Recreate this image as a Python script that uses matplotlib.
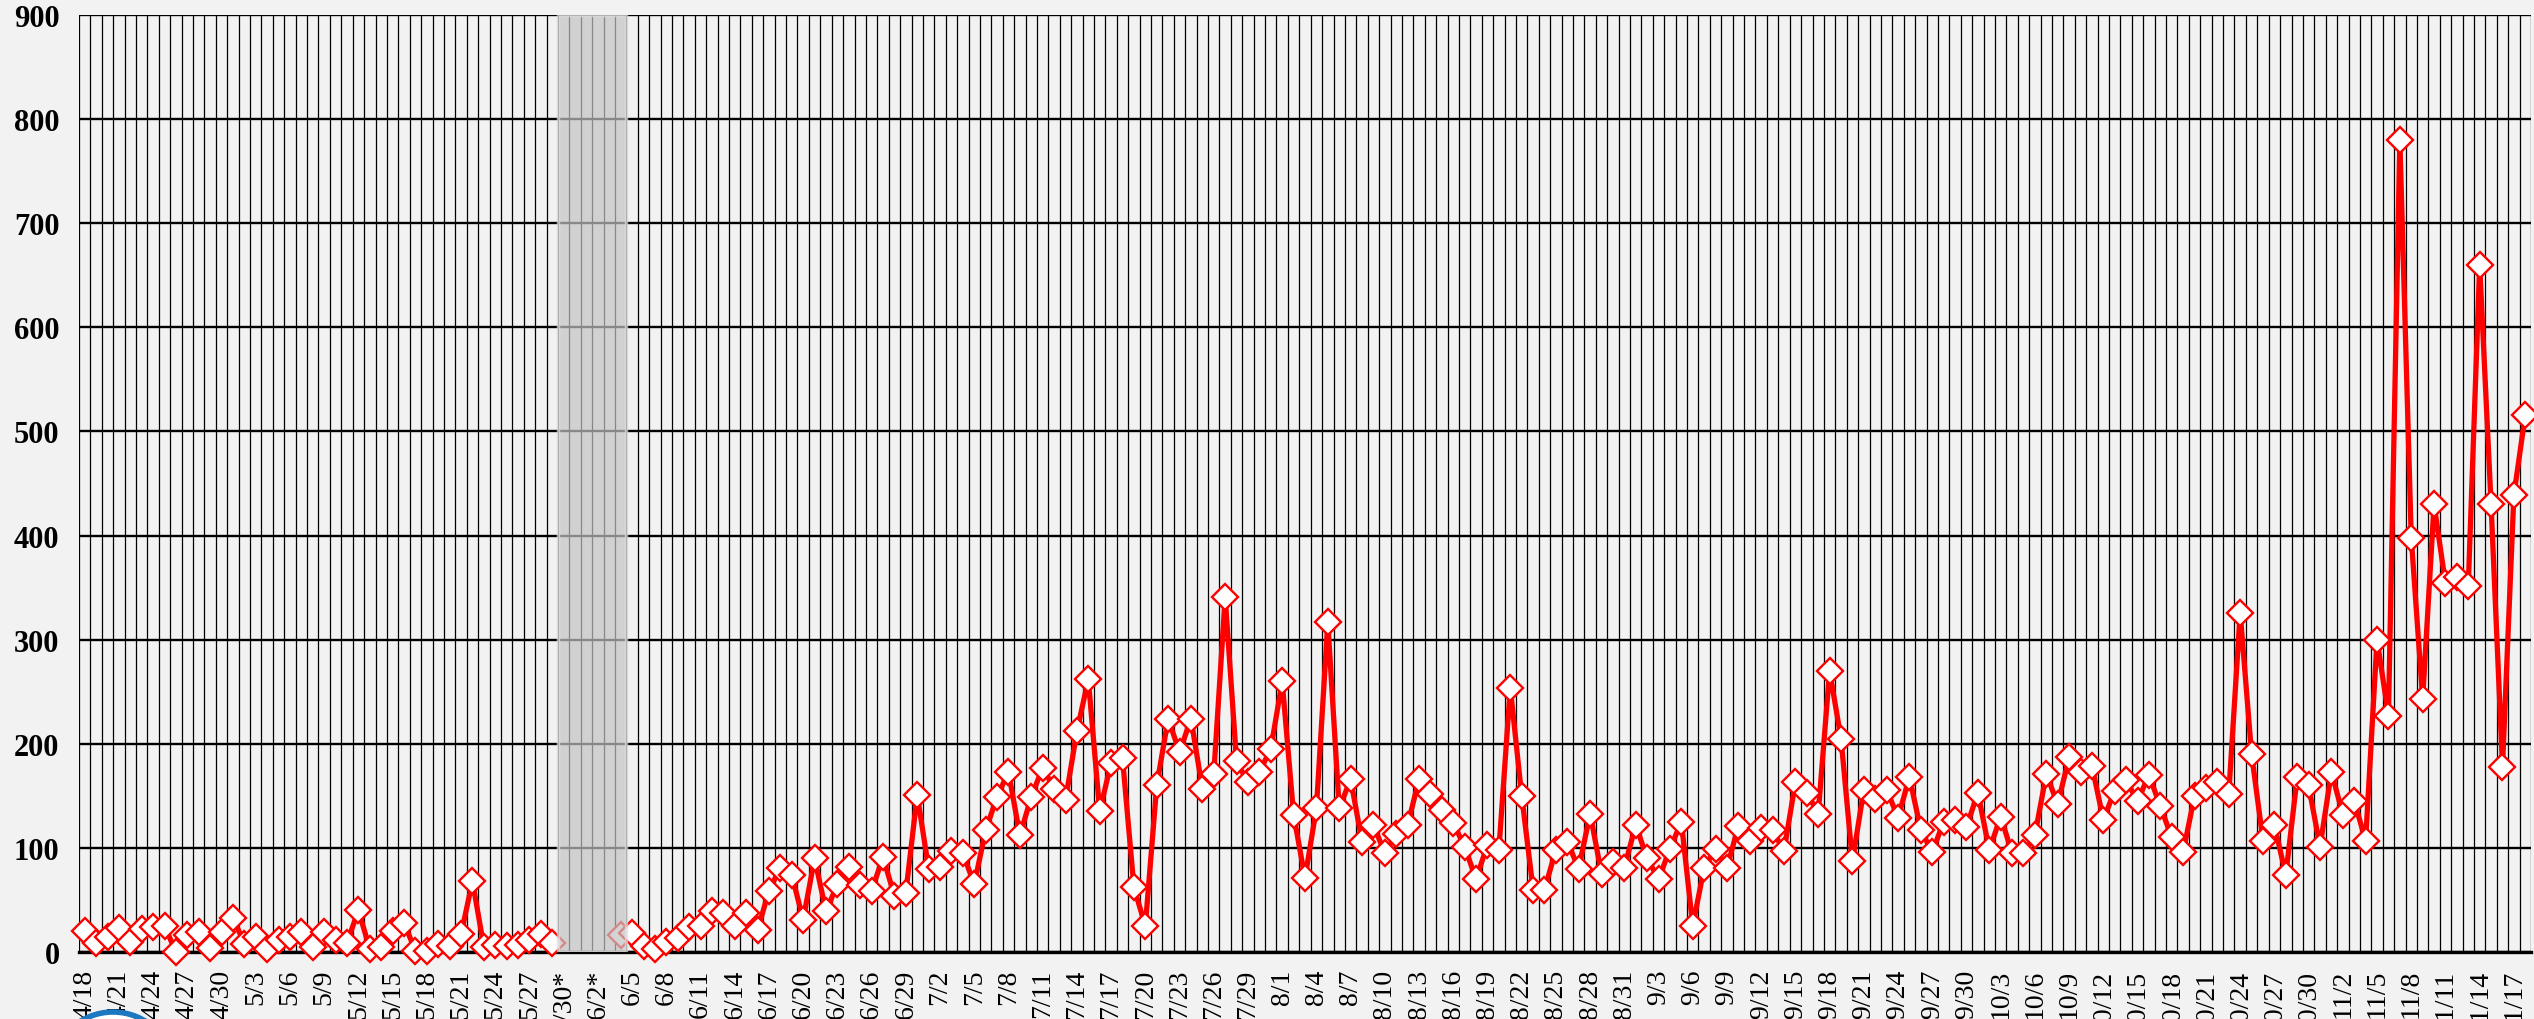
import numpy as np
import pandas as pd
import matplotlib
matplotlib.use("Agg")
import matplotlib.pyplot as plt
from matplotlib.patches import Ellipse

# ---- data -------------------------------------------------------------
dates = pd.date_range("2020-04-18", "2020-11-18", freq="D")
date_labels = [f"{d.month}/{d.day}" for d in dates]
starred_labels = ["5/30", "6/2"]
nan = np.nan
values = [
    20, 9, 14, 23, 10, 22, 24, 25, 0, 16,
    19, 4, 19, 33, 8, 14, 3, 12, 14, 19,
    5, 19, 12, 9, 40, 3, 5, 20, 28, 1,
    1, 8, 6, 17, 68, 5, 7, 6, 7, 12,
    17, 9, nan, nan, nan, nan, nan, 16, 18, 6,
    3, 10, 13, 24, 25, 39, 37, 25, 37, 21,
    59, 81, 74, 31, 90, 39, 65, 82, 64, 59,
    91, 54, 57, 151, 80, 82, 97, 95, 65, 117,
    149, 173, 112, 149, 177, 157, 146, 212, 262, 135,
    182, 186, 62, 25, 160, 224, 192, 224, 157, 171,
    341, 183, 163, 173, 195, 260, 132, 71, 138, 317,
    138, 166, 106, 122, 95, 113, 122, 166, 152, 136,
    124, 101, 70, 103, 98, 254, 150, 60, 60, 98,
    106, 80, 133, 75, 86, 81, 122, 90, 70, 99,
    125, 25, 81, 99, 81, 121, 107, 119, 117, 97,
    163, 153, 133, 270, 205, 87, 156, 147, 156, 129,
    168, 117, 96, 125, 127, 120, 153, 98, 130, 95,
    95, 112, 171, 142, 187, 173, 179, 127, 155, 165,
    145, 170, 140, 110, 96, 150, 158, 163, 152, 326,
    190, 107, 122, 74, 168, 160, 101, 173, 132, 145,
    107, 300, 227, 780, 398, 243, 430, 354, 360, 352,
    660, 430, 178, 439, 516,
]
shaded_start, shaded_end = "5/30", "6/4"
y_ticks = list(range(0, 901, 100))

# ---- figure -------------------------------------------------------------
W, H, DPI = 2534, 1020, 100
bg = "#f2f2f2"
fig = plt.figure(figsize=(W / DPI, H / DPI), dpi=DPI, facecolor=bg)
ax = fig.add_axes([79 / W, 1 - 953 / H, 2452 / W, 937 / H], facecolor=bg)

n = len(date_labels)
x = np.arange(n)
y = np.array(values, dtype=float)

ax.plot(x, y, color="#ff0000", lw=3.8, marker="D", ms=13.0,
        mfc="white", mec="#ff0000", mew=1.7, zorder=3, clip_on=False)

i0 = date_labels.index(shaded_start)
i1 = date_labels.index(shaded_end)
ax.axvspan(i0 - 0.5, i1 + 0.5, facecolor="#c3c3c3", alpha=0.7,
           edgecolor="#dedede", lw=2.5, zorder=4)

ax.set_xlim(-0.5, n - 0.5)
ax.set_ylim(0, 900)

# grid
ax.set_yticks(y_ticks)
ax.set_yticklabels([str(v) for v in y_ticks], family="Liberation Serif",
                   fontweight="bold", fontsize=22)
ax.set_xticks(np.arange(-0.5, n, 1.0), minor=True)
tick_pos = list(range(0, n, 3))
tick_lab = [date_labels[i] + ("*" if date_labels[i] in starred_labels else "")
            for i in tick_pos]
ax.set_xticks(tick_pos)
ax.set_xticklabels(tick_lab, rotation=90, family="Liberation Serif",
                   fontsize=20, va="top", ha="center")
ax.grid(axis="y", which="major", color="black", lw=1.7, zorder=1)
ax.grid(axis="x", which="minor", color="black", lw=0.9, zorder=1)
ax.grid(axis="x", which="major", visible=False)
ax.set_axisbelow(True)
ax.tick_params(axis="both", which="both", length=0)
ax.tick_params(axis="y", pad=14)
ax.tick_params(axis="x", pad=12)

for s in ("top", "right", "left"):
    ax.spines[s].set_visible(False)
ax.spines["bottom"].set_linewidth(2.4)
ax.spines["bottom"].set_color("black")

# partial logo at bottom-left corner
fig.patches.append(Ellipse((113 / W, 1 - 1075 / H), 124 / W, 124 / H,
                           transform=fig.transFigure, facecolor="white",
                           edgecolor="#1c78c0", lw=4, zorder=5))

fig.savefig("out.png", dpi=DPI, facecolor=bg)
